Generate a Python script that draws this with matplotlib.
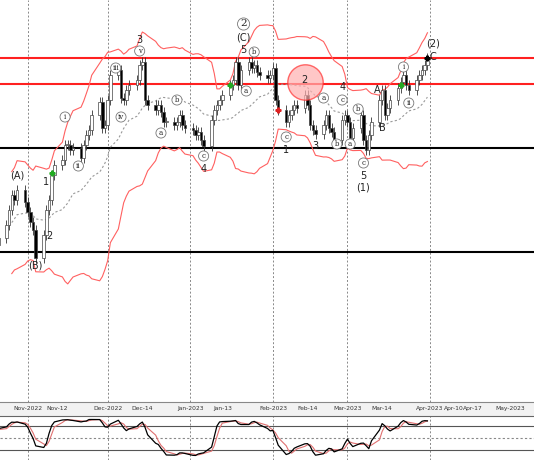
import matplotlib
matplotlib.use("Agg")
import matplotlib.pyplot as plt
import matplotlib.dates as mdates
import numpy as np
import pandas as pd

dates = pd.bdate_range("2022-10-20", "2023-03-31")
closes = [255,262,275,290,305,300,310,298,
          288,278,270,242,265,290,300,325,335,340,355,355,350,352,342,355,365,370,385,398,372,375,
          400,425,430,402,400,410,415,420,435,438,400,395,390,395,388,378,378,375,378,385,375,372,
          370,365,368,360,354,380,390,395,400,405,415,420,438,415,430,438,432,435,428,425,422,425,
          432,400,390,378,385,390,395,392,405,395,375,370,366,375,385,372,368,360,380,385,
          378,362,372,385,360,350,365,378,400,410,385,392,400,412,418,425,415,410,420,425,430,435,442]
n = min(len(dates), len(closes))
dates = dates[:n]; closes = np.array(closes[:n], float)
opens = np.concatenate([[closes[0] - 6], closes[:-1]])
wick = 5
highs = np.maximum(opens, closes) + wick
lows = np.minimum(opens, closes) - wick

red_levels = [442, 416]
black_levels = [352, 248]

labels = [("2022-10-28", 325, "(A)", False), ("2022-11-04", 235, "(B)", False),
          ("2022-11-08", 318, "1", False), ("2022-11-09", 264, "2", False),
          ("2022-11-15", 383, "i", True), ("2022-11-20", 334, "ii", True),
          ("2022-12-04", 432, "iii", True), ("2022-12-06", 383, "iv", True),
          ("2022-12-13", 460, "3", False), ("2022-12-13", 449, "v", True),
          ("2022-12-21", 367, "a", True), ("2022-12-27", 400, "b", True),
          ("2023-01-06", 344, "c", True), ("2023-01-06", 331, "4", False),
          ("2023-01-21", 476, "2", True), ("2023-01-21", 463, "(C)", False),
          ("2023-01-21", 450, "5", False), ("2023-01-25", 448, "b", True),
          ("2023-01-22", 409, "a", True), ("2023-02-06", 363, "c", True),
          ("2023-02-06", 350, "1", False), ("2023-02-13", 420, "2", False),
          ("2023-02-20", 402, "a", True), ("2023-02-17", 354, "3", False),
          ("2023-02-25", 356, "b", True), ("2023-03-02", 356, "a", True),
          ("2023-02-27", 400, "c", True), ("2023-02-27", 413, "4", False),
          ("2023-03-05", 391, "b", True), ("2023-03-07", 337, "c", True),
          ("2023-03-07", 324, "5", False), ("2023-03-07", 313, "(1)", False),
          ("2023-03-12", 410, "A", False), ("2023-03-14", 372, "B", False),
          ("2023-03-22", 433, "i", True), ("2023-03-24", 397, "ii", True),
          ("2023-04-02", 457, "(2)", False), ("2023-04-02", 443, "C", False)]

tick_dates = ["2022-11-01","2022-11-12","2022-12-01","2022-12-14","2023-01-01","2023-01-13",
              "2023-02-01","2023-02-14","2023-03-01","2023-03-14","2023-04-01","2023-04-10",
              "2023-04-17","2023-05-01"]
tick_labels = ["Nov-2022","Nov-12","Dec-2022","Dec-14","Jan-2023","Jan-13","Feb-2023","Feb-14",
               "Mar-2023","Mar-14","Apr-2023","Apr-10","Apr-17","May-2023"]
month_lines = ["2022-11-01","2022-12-01","2023-01-01","2023-02-01","2023-03-01","2023-04-01"]

fig = plt.figure(figsize=(5.34, 4.62), dpi=100)
ax = fig.add_axes([0, 60/462, 1, 402/462])
axs = fig.add_axes([0, 2/462, 1, 44/462])
x = mdates.date2num(dates)
xl = (mdates.date2num(pd.Timestamp("2022-10-21 14:00")), mdates.date2num(pd.Timestamp("2023-05-10")))

for a in (ax, axs):
    a.set_xlim(*xl)
    for m in month_lines:
        a.axvline(mdates.date2num(pd.Timestamp(m)), color="#888", ls=(0, (2, 2)), lw=0.7, zorder=0)

ax.set_ylim(98, 500)
for lv in red_levels:
    ax.axhline(lv, color="#ff2020", lw=1.5, zorder=1)
for lv in black_levels:
    ax.axhline(lv, color="black", lw=1.5, zorder=1)

s = pd.Series(closes)
mid = s.rolling(20, min_periods=5).mean()
sd = s.rolling(20, min_periods=5).std()
ax.plot(x, mid, color="#999", ls=(0, (2, 2)), lw=0.8)
ax.plot(x, mid + 2.5 * sd, color="#ff6060", lw=0.8)
ax.plot(x, mid - 2.5 * sd, color="#ff6060", lw=0.8)

w = 0.95
for xi, o, c, h, l in zip(x, opens, closes, highs, lows):
    ax.vlines(xi, l, h, color="#333", lw=0.6, zorder=3)
    col = "white" if c >= o else "black"
    ax.add_patch(plt.Rectangle((xi - w / 2, min(o, c)), w, max(abs(c - o), 0.8),
                               facecolor=col, edgecolor="#444", lw=0.5, zorder=4))

for d, p, t, circ in labels:
    xd = mdates.date2num(pd.Timestamp(d))
    if circ:
        fs = 7.5 if t == "2" else 5
        ax.text(xd, p, t, fontsize=fs, ha="center", va="center", color="#222", zorder=6,
                family="DejaVu Serif",
                bbox=dict(boxstyle="circle,pad=0.15", fc="white", ec="#777", lw=0.6))
    else:
        ax.text(xd, p, t, fontsize=7, ha="center", va="center", color="#222", zorder=6)

ax.scatter([mdates.date2num(pd.Timestamp("2023-02-13"))], [418], s=650, fc="#ffb0b0", ec="#ff3030",
           alpha=0.7, lw=1, zorder=5)
for d, p, col in [("2022-11-10", 327, "#22aa22"), ("2023-01-16", 415, "#22aa22"),
                  ("2023-03-21", 415, "#22aa22"), ("2023-02-03", 390, "#dd2222"),
                  ("2023-03-31", 442, "black")]:
    ax.plot(mdates.date2num(pd.Timestamp(d)), p, marker="P", ms=3.5, color=col, zorder=7)

ax.set_xticks([mdates.date2num(pd.Timestamp(t)) for t in tick_dates])
ax.set_xticklabels(tick_labels, fontsize=4.3, color="#333")
ax.tick_params(axis="x", length=0, pad=3)
ax.set_yticks([])
for sp in ax.spines.values():
    sp.set_visible(False)
ax.spines["bottom"].set_visible(True)
ax.spines["bottom"].set_color("#888")

# stochastic
hh = pd.Series(highs).rolling(14, min_periods=1).max()
ll = pd.Series(lows).rolling(14, min_periods=1).min()
k = (100 * (s - ll) / (hh - ll)).rolling(3, min_periods=1).mean()
dline = k.rolling(3, min_periods=1).mean()
axs.set_ylim(-5, 105)
for lv in (80, 20):
    axs.axhline(lv, color="#555", lw=0.8)
axs.axhline(50, color="#888", ls=(0, (2, 2)), lw=0.8)
axs.plot(x, dline, color="#e07070", lw=0.8)
axs.plot(x, k, color="black", lw=0.9)
axs.set_xticks([]); axs.set_yticks([])
for sp in axs.spines.values():
    sp.set_visible(False)
axs.spines["top"].set_visible(True); axs.spines["top"].set_color("#666")
fig.patches.append(plt.Rectangle((0, 46/462), 1, 14/462, transform=fig.transFigure,
                                 fc="#f2f2f2", ec="none", zorder=-1))
fig.savefig("out.png", dpi=100)
